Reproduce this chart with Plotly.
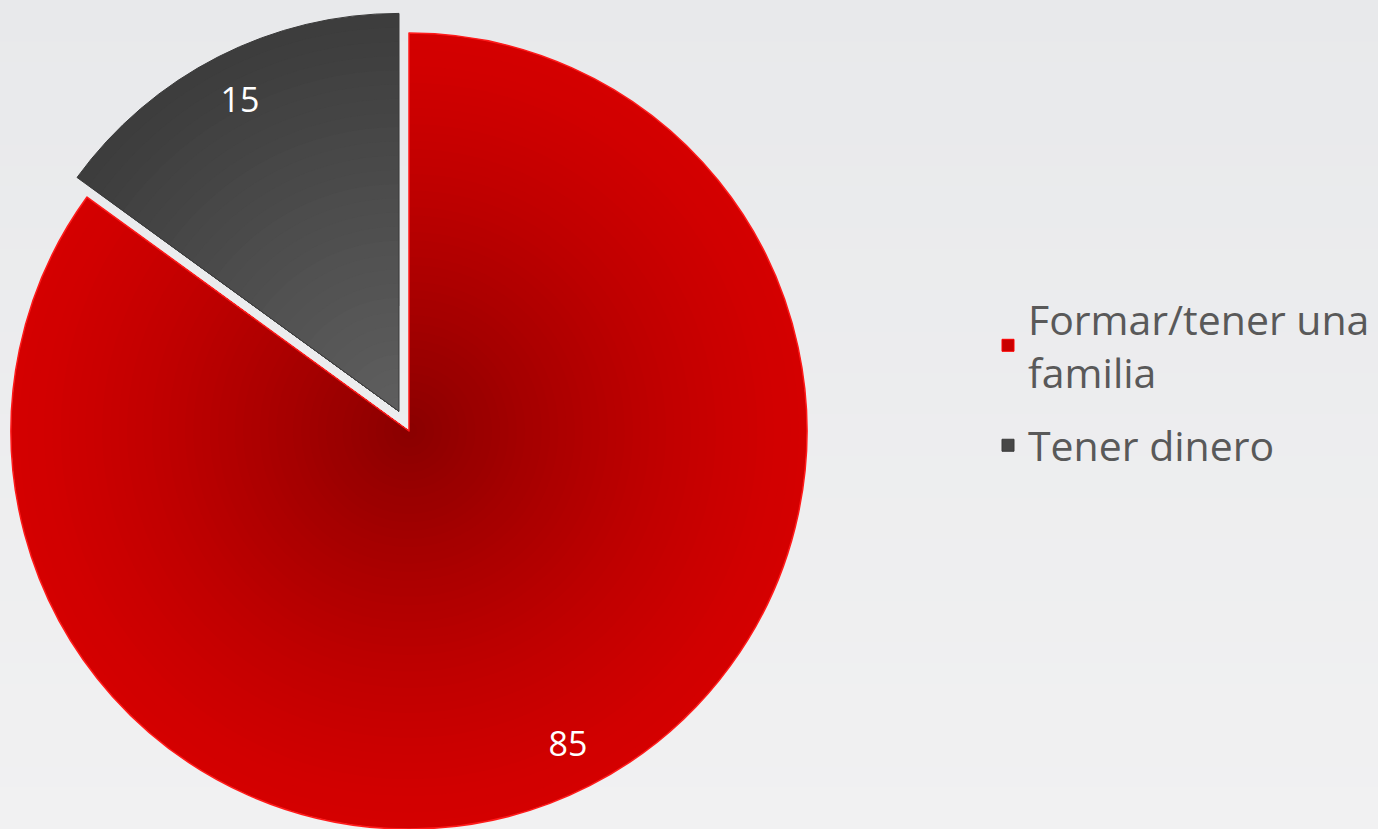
import math
import plotly.graph_objects as go

# ---- data ----
labels = ["Formar/tener una<br>familia", "Tener dinero"]
values = [85, 15]

# ---- geometry / style ----
W, H = 1378, 829
R = 398            # pie radius in px
CX, CY = 409, 431  # pie centre in px (from top-left)
PULL_PX = 22       # explode distance of second slice
FONT = "Open Sans"

total = sum(values)
mid_frac = (values[0] + values[1] / 2) / total
mid_ang = 2 * math.pi * mid_frac  # clockwise from 12 o'clock
GX = CX + PULL_PX * math.sin(mid_ang)
GY = CY - PULL_PX * math.cos(mid_ang)


def clamp(v):
    return min(1.0, max(0.0, v))


def dom(cx, cy, r):
    return dict(x=[clamp((cx - r) / W), clamp((cx + r) / W)],
                y=[clamp(1 - (cy + r) / H), clamp(1 - (cy - r) / H)])


T = "rgba(0,0,0,0)"
common = dict(values=values, labels=labels, sort=False, direction="clockwise",
              rotation=0, showlegend=False)

fig = go.Figure()

# legend carriers (tiny, hidden under the red slice), one group per label
leg_fill = ["#c80000", "#474747"]
leg_line = ["#ff0000", "#3a3a3a"]
for k in range(len(labels)):
    fig.add_trace(go.Pie(values=[values[k]], labels=[labels[k]], sort=False,
                         showlegend=True, legendgroup=f"g{k}",
                         domain=dom(CX, 650 + 3 * k, 0.5),
                         marker=dict(colors=[leg_fill[k]],
                                     line=dict(color=[leg_line[k]], width=1)),
                         textinfo="none", hoverinfo="skip"))

# red slice: radial gradient from stacked layers
N = 48
for i in range(N):
    r = R * (1 - i / N)
    tm = 1 - (i + 0.5) / N
    c = int(round(138 + 74 * (1 - (1 - tm) ** 1.3)))
    fig.add_trace(go.Pie(**common, domain=dom(CX, CY, r),
                         marker=dict(colors=[f"rgb({c},0,0)", T], line=dict(width=0)),
                         textinfo="none", hoverinfo="skip"))

# gray slice (exploded): radial gradient
M = 28
for i in range(M):
    r = R * (1 - i / M)
    tm = 1 - (i + 0.5) / M
    g = int(round(95 - 35 * tm))
    fig.add_trace(go.Pie(**common, domain=dom(GX, GY, r),
                         marker=dict(colors=[T, f"rgb({g},{g},{g})"], line=dict(width=0)),
                         textinfo="none", hoverinfo="skip"))

# outlines
fig.add_trace(go.Pie(**common, domain=dom(CX, CY, R),
                     marker=dict(colors=[T, T], line=dict(color=["#ff1a1a", T], width=1.5)),
                     textinfo="none", hovertemplate="%{label}: %{value}<extra></extra>"))
fig.add_trace(go.Pie(**common, domain=dom(GX, GY, R),
                     marker=dict(colors=[T, T], line=dict(color=[T, "#3a3a3a"], width=1)),
                     textinfo="none", hoverinfo="skip"))

# value labels
txt = dict(textposition="inside", insidetextorientation="horizontal", hole=0.76,
           textfont=dict(family=FONT, size=34, color="white"), hoverinfo="skip")
fig.add_trace(go.Pie(**common, domain=dom(CX, CY, R),
                     marker=dict(colors=[T, T], line=dict(width=0)),
                     texttemplate=["%{value}", ""], **txt))
fig.add_trace(go.Pie(**common, domain=dom(GX, GY, R),
                     marker=dict(colors=[T, T], line=dict(width=0)),
                     texttemplate=["", "%{value}"], **txt))

# background vertical gradient
top = (232, 233, 235)
bot = (241, 241, 242)
B = 40
shapes = []
for i in range(B):
    f = (i + 0.5) / B
    col = tuple(int(round(top[k] + (bot[k] - top[k]) * f)) for k in range(3))
    shapes.append(dict(type="rect", xref="paper", yref="paper", layer="below",
                       x0=0, x1=1, y1=1 - i / B, y0=max(0, 1 - (i + 1) / B - 0.002),
                       fillcolor=f"rgb{col}", line=dict(width=0)))

fig.update_layout(
    width=W, height=H,
    margin=dict(l=0, r=0, t=0, b=0),
    paper_bgcolor="#ededee",
    plot_bgcolor="#ededee",
    shapes=shapes,
    showlegend=True,
    legend=dict(x=988 / W, xanchor="left", y=1 - 382 / H, yanchor="middle",
                font=dict(family=FONT, size=41, color="#595959"),
                bgcolor="rgba(0,0,0,0)", traceorder="grouped", tracegroupgap=17),
)

fig.write_html("out.html", config={"displayModeBar": False},
               post_script="document.body.style.margin='0';document.body.style.overflow='hidden';")
